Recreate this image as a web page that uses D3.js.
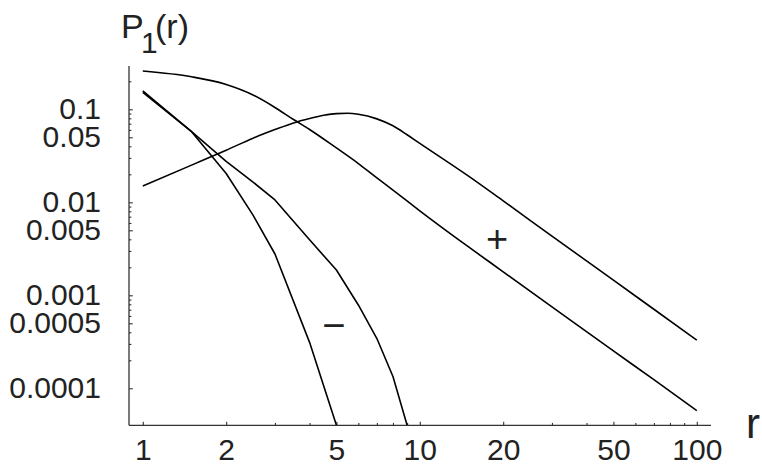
<!DOCTYPE html>
<html>
<head>
<meta charset="utf-8">
<script src="https://cdn.jsdelivr.net/npm/d3@7/dist/d3.min.js"></script>
<style>
  html, body { margin: 0; padding: 0; background: #fff; }
  svg { display: block; font-family: "Liberation Sans", Arial, Helvetica, sans-serif; }
  .curve { fill: none; stroke: #000; stroke-width: 1.6; stroke-linejoin: round; }
  .axis-line { stroke: #333; stroke-width: 1.3; }
  .tick line { stroke: #333; stroke-width: 1.1; }
  .tick text { fill: #222; font-size: 30px; }
  .lbl { fill: #222; }
</style>
</head>
<body>
<svg id="chart" width="762" height="469"></svg>
<script>
// P1(r) on log-log axes: two "+" curves and two "−" curves

// r samples and values
const rPlusTop = [1, 1.5, 2, 2.5, 3, 3.5, 4, 5, 6, 7, 8, 10, 15, 20, 30, 50, 70, 100];
const plusTop  = [0.258, 0.2236, 0.1848, 0.1425, 0.1046, 0.0777, 0.0607, 0.0384, 0.0261, 0.0183, 0.01355,
                  0.0081, 0.00331, 0.00179, 7.52e-4, 2.52e-4, 1.24e-4, 5.74e-5];

const rPlusBump = [1, 1.5, 2, 2.5, 3, 3.5, 4, 4.5, 5, 5.5, 6, 7, 8, 9, 10, 15, 20, 30, 50, 70, 100];
const plusBump  = [0.01497, 0.0251, 0.0363, 0.0489, 0.0605, 0.0714, 0.0796, 0.0862, 0.0899, 0.0906,
                   0.0884, 0.0789, 0.0665, 0.0532, 0.0430, 0.0191, 0.01036, 0.00433, 0.001455, 7.08e-4, 3.30e-4];

const rMinusSteep = [1, 1.5, 2, 2.5, 3, 4, 5];
const minusSteep  = [0.158, 0.0574, 0.0204, 0.00727, 0.00278, 3.12e-4, 4.0e-5];

const rMinusSlow = [1, 1.5, 2, 2.5, 3, 4, 5, 6, 7, 8, 9];
const minusSlow  = [0.152, 0.0574, 0.0275, 0.0165, 0.0106, 0.00395, 0.00187, 7.87e-4, 3.43e-4, 1.34e-4, 4.0e-5];

// axes
const xMajor = [1, 2, 5, 10, 20, 50, 100];
const xMinor = [3, 4, 6, 7, 8, 9, 30, 40, 60, 70, 80, 90];
const yMajor = [0.1, 0.05, 0.01, 0.005, 0.001, 0.0005, 0.0001];
const yMinor = [0.2, 0.09, 0.08, 0.07, 0.06, 0.04, 0.03, 0.02,
                0.009, 0.008, 0.007, 0.006, 0.004, 0.003, 0.002,
                0.0009, 0.0008, 0.0007, 0.0006, 0.0004, 0.0003, 0.0002];
const yLabels = ['0.1', '0.05', '0.01', '0.005', '0.001', '0.0005', '0.0001'];

const svg = d3.select('#chart');

// plot frame
const frame = { left: 129, right: 711, top: 66, bottom: 425.3 };

const x = d3.scaleLog().domain([1, 100]).range([142.8, 696.8]);
const y = d3.scaleLog().domain([0.0001, 0.1]).range([388.3, 109.3]);

// x axis
svg.append('g').attr('transform', 'translate(0,' + frame.bottom + ')')
  .call(d3.axisBottom(x).tickValues(xMajor).tickSize(-3.6).tickPadding(13)
    .tickFormat(d3.format('d')))
  .call(g => g.select('.domain').remove());
svg.append('g').attr('transform', 'translate(0,' + frame.bottom + ')')
  .call(d3.axisBottom(x).tickValues(xMinor).tickSize(-2.4).tickFormat(''))
  .call(g => g.select('.domain').remove());

// y axis
svg.append('g').attr('transform', 'translate(' + frame.left + ',0)')
  .call(d3.axisLeft(y).tickValues(yMajor).tickSize(-3.8).tickPadding(28)
    .tickFormat((d, i) => yLabels[i]))
  .call(g => g.select('.domain').remove())
  .call(g => g.selectAll('text').attr('dy', '0.3em'));
svg.append('g').attr('transform', 'translate(' + frame.left + ',0)')
  .call(d3.axisLeft(y).tickValues(yMinor).tickSize(-2.4).tickFormat(''))
  .call(g => g.select('.domain').remove());

svg.append('line').attr('class', 'axis-line')
  .attr('x1', frame.left).attr('x2', frame.right).attr('y1', frame.bottom).attr('y2', frame.bottom);
svg.append('line').attr('class', 'axis-line')
  .attr('x1', frame.left).attr('x2', frame.left).attr('y1', frame.top).attr('y2', frame.bottom);

// curves
svg.append('clipPath').attr('id', 'plot-clip')
  .append('rect').attr('x', frame.left).attr('y', frame.top)
  .attr('width', frame.right - frame.left).attr('height', frame.bottom - frame.top);

const plot = svg.append('g').attr('clip-path', 'url(#plot-clip)');

function zip(rs, vs) { return rs.map((r, i) => [r, vs[i]]); }

const smooth = d3.line().x(d => x(d[0])).y(d => y(d[1])).curve(d3.curveMonotoneX);
const poly = d3.line().x(d => x(d[0])).y(d => y(d[1]));

plot.append('path').attr('class', 'curve').attr('d', smooth(zip(rPlusTop, plusTop)));
plot.append('path').attr('class', 'curve').attr('d', smooth(zip(rPlusBump, plusBump)));
plot.append('path').attr('class', 'curve').attr('d', poly(zip(rMinusSteep, minusSteep)));
plot.append('path').attr('class', 'curve').attr('d', poly(zip(rMinusSlow, minusSlow)));

// sign markers
svg.append('text').attr('class', 'lbl').attr('x', x(19)).attr('y', y(0.0041))
  .attr('text-anchor', 'middle').attr('dy', '0.36em').attr('font-size', 38).text('+');
svg.append('text').attr('class', 'lbl').attr('x', x(4.9)).attr('y', y(0.00048))
  .attr('text-anchor', 'middle').attr('dy', '0.34em').attr('font-size', 40).text('\u2212');

// axis titles
const yt = svg.append('text').attr('class', 'lbl').attr('font-size', 34);
yt.append('tspan').attr('x', 121).attr('y', 38.3).text('P');
yt.append('tspan').attr('x', 141).attr('y', 53.3).attr('font-size', 30).text('1');
yt.append('tspan').attr('x', 155).attr('y', 38.3).text('(r)');

svg.append('text').attr('class', 'lbl').attr('x', 746).attr('y', 438)
  .attr('font-size', 42).text('r');
</script>
</body>
</html>
